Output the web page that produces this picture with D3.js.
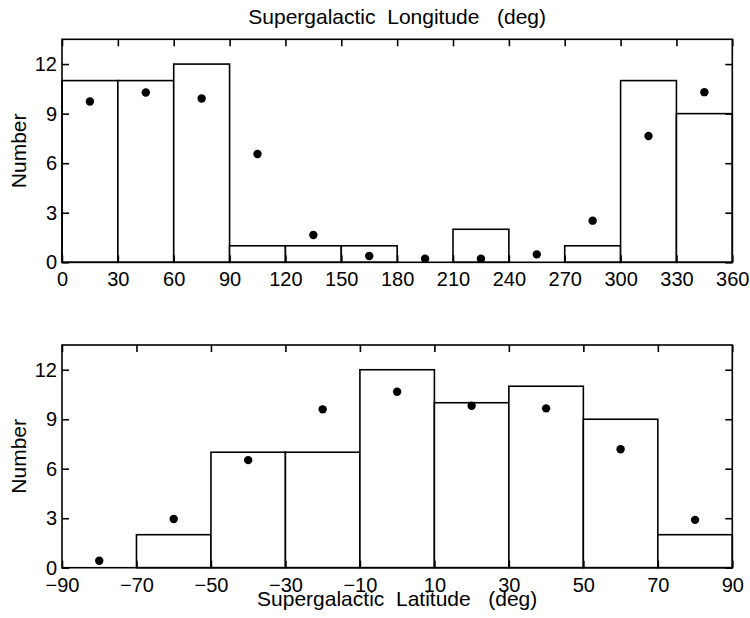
<!DOCTYPE html>
<html>
<head>
<meta charset="utf-8">
<script src="https://cdn.jsdelivr.net/npm/d3@7"></script>
<style>
  html, body { margin: 0; padding: 0; background: #fff; }
  svg { display: block; font-family: "Liberation Sans", Arial, Helvetica, sans-serif; }
</style>
</head>
<body>
<svg id="chart" width="750" height="618"></svg>
<script>
// ---- Data ----
const lonBinEdges = [0, 30, 60, 90, 120, 150, 180, 210, 240, 270, 300, 330, 360];
const lonCounts   = [11, 11, 12, 1, 1, 1, 0, 2, 0, 1, 11, 9];
const lonCenters  = [15, 45, 75, 105, 135, 165, 195, 225, 255, 285, 315, 345];
const lonExpected = [9.73, 10.28, 9.92, 6.56, 1.65, 0.38, 0.22, 0.22, 0.48, 2.52, 7.65, 10.3];

const latBinEdges = [-90, -70, -50, -30, -10, 10, 30, 50, 70, 90];
const latCounts   = [0, 2, 7, 7, 12, 10, 11, 9, 2];
const latCenters  = [-80, -60, -40, -20, 0, 20, 40, 60, 80];
const latExpected = [0.42, 2.95, 6.52, 9.6, 10.67, 9.82, 9.66, 7.18, 2.9];

const yTicks = [0, 3, 6, 9, 12];
const lonTicks = [0, 30, 60, 90, 120, 150, 180, 210, 240, 270, 300, 330, 360];
const latTicks = [-90, -70, -50, -30, -10, 10, 30, 50, 70, 90];

const yMax = 13.5;
const tickFont = 20;
const labelFont = 21;
const tickLen = 7;
const lw = 1.6;

const svg = d3.select("#chart");
const fmt = v => (v < 0 ? "\u2212" + Math.abs(v) : String(v));

function panel(opts) {
  const { left, right, top, bottom, xDomain, edges, counts, centers, expected, xTicks, title, xlabel } = opts;
  const x = d3.scaleLinear().domain(xDomain).range([left, right]);
  const y = d3.scaleLinear().domain([0, yMax]).range([bottom, top]);
  const g = svg.append("g");

  // bars
  const bins = counts.map((c, i) => ({ x0: edges[i], x1: edges[i + 1], c }));
  g.selectAll("rect.bar").data(bins.filter(b => b.c > 0)).join("rect")
    .attr("class", "bar")
    .attr("x", d => x(d.x0))
    .attr("y", d => y(d.c))
    .attr("width", d => x(d.x1) - x(d.x0))
    .attr("height", d => y(0) - y(d.c))
    .attr("fill", "#fff")
    .attr("stroke", "#000")
    .attr("stroke-width", lw);

  // dots
  g.selectAll("circle.dot").data(centers.map((c, i) => ({ c, v: expected[i] }))).join("circle")
    .attr("class", "dot")
    .attr("cx", d => x(d.c))
    .attr("cy", d => y(d.v))
    .attr("r", 4.2)
    .attr("fill", "#000");

  // axes, ticks inward
  const xAxisB = d3.axisBottom(x).tickValues(xTicks).tickSize(-tickLen).tickPadding(10).tickFormat(fmt);
  const xAxisT = d3.axisTop(x).tickValues(xTicks).tickSize(-tickLen).tickFormat("");
  const yAxisL = d3.axisLeft(y).tickValues(yTicks).tickSize(-tickLen).tickPadding(5).tickFormat(fmt);
  const yAxisR = d3.axisRight(y).tickValues(yTicks).tickSize(-tickLen).tickFormat("");

  const style = sel => {
    sel.select(".domain").remove();
    sel.selectAll("line").attr("stroke", "#000").attr("stroke-width", lw);
    sel.selectAll("text").attr("fill", "#000").style("font-size", tickFont + "px")
      .style("font-family", '"Liberation Sans", Arial, sans-serif');
  };
  g.append("g").attr("transform", `translate(0,${bottom})`).call(xAxisB).call(style);
  g.append("g").attr("transform", `translate(0,${top})`).call(xAxisT).call(style);
  g.append("g").attr("transform", `translate(${left},0)`).call(yAxisL).call(style);
  g.append("g").attr("transform", `translate(${right},0)`).call(yAxisR).call(style);

  // frame
  g.append("rect")
    .attr("x", left).attr("y", top)
    .attr("width", right - left).attr("height", bottom - top)
    .attr("fill", "none").attr("stroke", "#000").attr("stroke-width", lw);

  // y label
  g.append("text")
    .attr("transform", `translate(${left - 36},${(top + bottom) / 2}) rotate(-90)`)
    .attr("text-anchor", "middle")
    .style("font-size", labelFont + "px")
    .text("Number");

  if (title) {
    g.append("text")
      .attr("x", (left + right) / 2).attr("y", top - 15)
      .attr("text-anchor", "middle")
      .style("font-size", labelFont + "px")
      .style("white-space", "pre")
      .attr("xml:space", "preserve")
      .text(title);
  }
  if (xlabel) {
    g.append("text")
      .attr("x", (left + right) / 2).attr("y", bottom + 38)
      .attr("text-anchor", "middle")
      .style("font-size", labelFont + "px")
      .style("white-space", "pre")
      .attr("xml:space", "preserve")
      .text(xlabel);
  }
}

panel({
  left: 62, right: 732.3, top: 39.3, bottom: 262.3,
  xDomain: [0, 360], edges: lonBinEdges, counts: lonCounts,
  centers: lonCenters, expected: lonExpected, xTicks: lonTicks,
  title: "Supergalactic  Longitude   (deg)"
});
panel({
  left: 62, right: 732.3, top: 345, bottom: 567.7,
  xDomain: [-90, 90], edges: latBinEdges, counts: latCounts,
  centers: latCenters, expected: latExpected, xTicks: latTicks,
  xlabel: "Supergalactic  Latitude   (deg)"
});
</script>
</body>
</html>
